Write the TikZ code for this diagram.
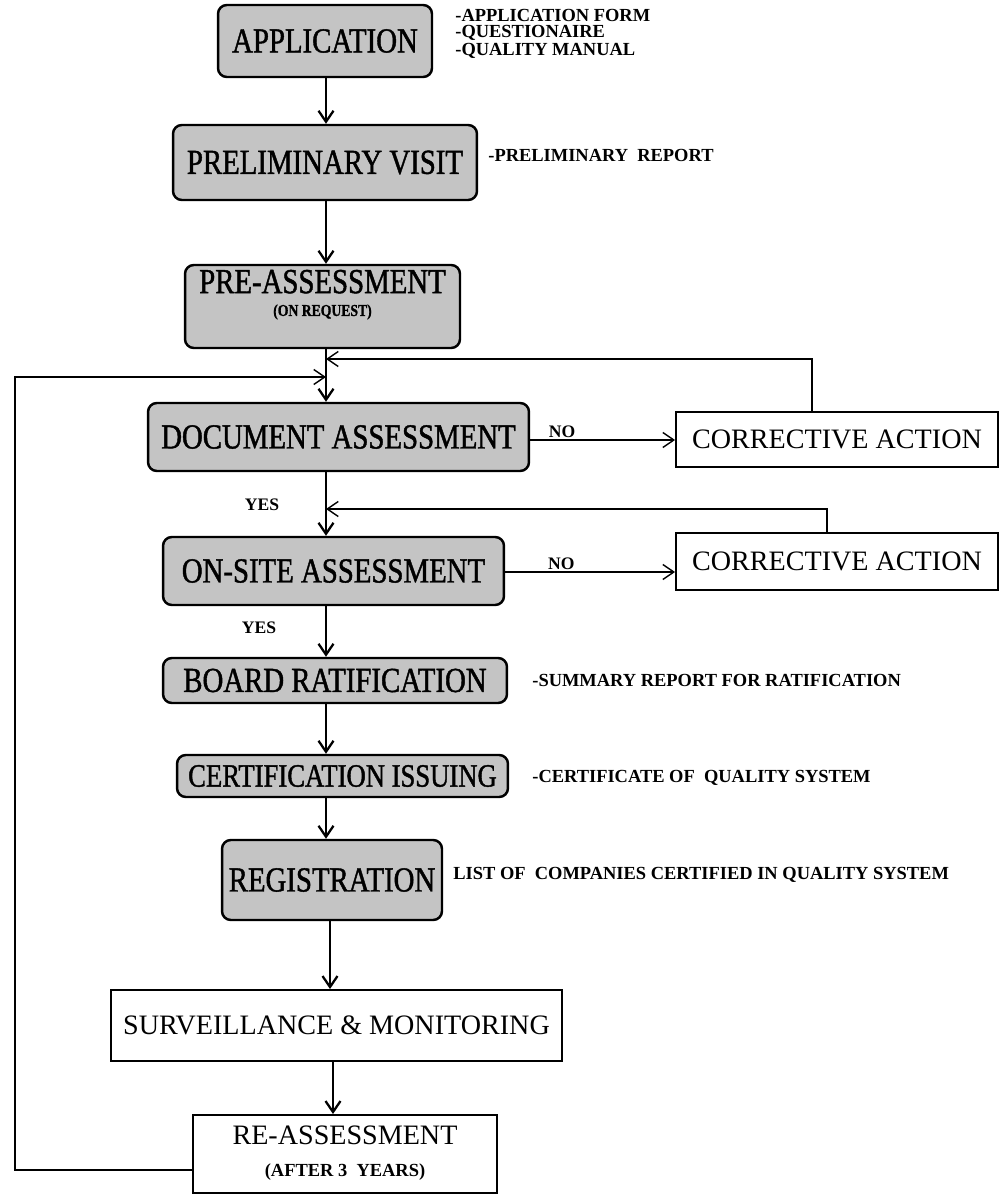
\documentclass[tikz,border=0pt]{standalone}
\usepackage{fontspec}
\setmainfont{Liberation Serif}
\newfontfamily\boxfont[FakeStretch=0.82,FakeBold=1.2]{Liberation Serif}
\usetikzlibrary{arrows.meta, positioning}
\definecolor{shade}{HTML}{C4C4C4}
% two lines set high in a box
\newcommand{\uplines}[4]{\raisebox{#1}{\begin{tabular}{@{}c@{}}#3\\[#2]#4\end{tabular}}}

\begin{document}
\begin{tikzpicture}[x=0.02cm, y=-0.02cm,
      stage/.style={draw, line width=1.4pt, fill=shade, rounded corners=5pt,
                    inner sep=0pt, align=center, font=\boxfont\fontsize{20}{22}\selectfont},
      plain/.style={draw, line width=1.1pt, fill=white, inner sep=0pt, align=center,
                    font=\fontsize{16}{18}\selectfont},
      note/.style={anchor=west, inner sep=0pt, font=\bfseries\fontsize{10.5}{12}\selectfont},
      tag/.style={inner sep=1pt, font=\bfseries\fontsize{10}{12}\selectfont},
      arr/.style={-{Straight Barb[length=2.2mm, width=3mm]}, line width=1.3pt},
      back/.style={-{Straight Barb[length=2.2mm, width=3mm]}, line width=0.8pt}]
    \useasboundingbox (0,0) rectangle (1000,1195);
    \coordinate (spine) at (326,0);

    % main flow
    \node[stage, minimum width=4.28cm, minimum height=1.44cm] (app) at (325,41) {APPLICATION};
    \node[stage, minimum width=6.08cm, minimum height=1.5cm] (visit) at (325,162.5) {PRELIMINARY VISIT};
    \node[stage, minimum width=5.5cm, minimum height=1.66cm] (pre) at (322.5,306.5)
         {\uplines{0.82cm}{-9pt}{PRE-ASSESSMENT}{\bfseries\fontsize{9.5}{11}\selectfont (ON REQUEST)}};
    \node[stage, minimum width=7.62cm, minimum height=1.36cm] (doc) at (338.5,437) {DOCUMENT ASSESSMENT};
    \node[stage, minimum width=6.82cm, minimum height=1.36cm] (site) at (333.5,571) {ON-SITE ASSESSMENT};
    \node[stage, minimum width=6.88cm, minimum height=0.9cm] (board) at (335,680.5) {BOARD RATIFICATION};
    \node[stage, minimum width=6.62cm, minimum height=0.84cm, font=\boxfont\fontsize{18.5}{20}\selectfont]
         (cert) at (342.5,776) {CERTIFICATION ISSUING};
    \node[stage, minimum width=4.4cm, minimum height=1.6cm] (reg) at (332,880) {REGISTRATION};
    \node[plain, minimum width=9.02cm, minimum height=1.42cm] (surv) at (336.5,1025.5) {SURVEILLANCE \& MONITORING};
    \node[plain, minimum width=6.08cm, minimum height=1.56cm] (reass) at (345,1154)
         {\uplines{0.3cm}{0pt}{RE-ASSESSMENT}{\bfseries\fontsize{10.5}{12}\selectfont (AFTER 3\ \ YEARS)}};

    % corrective actions
    \node[plain, minimum width=6.44cm, minimum height=1.1cm] (fix1) at (837,439.5) {CORRECTIVE ACTION};
    \node[plain, minimum width=6.44cm, minimum height=1.14cm] (fix2) at (837,561.5) {CORRECTIVE ACTION};

    % side notes
    \node[note] (n1) at (455,15) {-APPLICATION FORM};
    \node[note] (n2) at (455,33) {-QUESTIONAIRE};
    \node[note] (n3) at (455,51) {-QUALITY MANUAL};
    \node[note] (n4) at (488,155) {-PRELIMINARY\ \ REPORT};
    \node[note] (n5) at (532,680) {-SUMMARY REPORT FOR RATIFICATION};
    \node[note] (n6) at (532,778) {-CERTIFICATE OF\ \ QUALITY SYSTEM};
    \node[note] (n7) at (453,875) {LIST OF\ \ COMPANIES CERTIFIED IN QUALITY SYSTEM};

    \node[tag] (yes1) at (262,505) {YES};
    \node[tag] (yes2) at (259,628) {YES};

    % arrows down the spine
    \draw[arr] (spine |- app.south) -- (spine |- visit.north);
    \draw[arr] (spine |- visit.south) -- (spine |- pre.north);
    \draw[arr] (spine |- pre.south) -- (spine |- doc.north);
    \draw[arr] (spine |- doc.south) -- (spine |- site.north);
    \draw[arr] (spine |- site.south) -- (spine |- board.north);
    \draw[arr] (spine |- board.south) -- (spine |- cert.north);
    \draw[arr] (spine |- cert.south) -- (spine |- reg.north);
    \draw[arr] (330,0 |- reg.south) -- (330,0 |- surv.north);
    \draw[arr] (333,0 |- surv.south) -- (333,0 |- reass.north);

    % NO branches
    \draw[back] (doc.east |- 0,440) -- node[tag, above, pos=0.22] (no1) {NO} (fix1.west |- 0,440);
    \draw[back] (site.east |- 0,572) -- node[tag, above, pos=0.33] (no2) {NO} (fix2.west |- 0,572);

    % loops back
    \draw[back] (812,0 |- fix1.north) |- (spine |- 0,359);
    \draw[back] (827,0 |- fix2.north) |- (spine |- 0,509);
    \draw[back] (reass.west |- 0,1170) -| (15,377) -- (spine |- 0,377);
\end{tikzpicture}
\end{document}
